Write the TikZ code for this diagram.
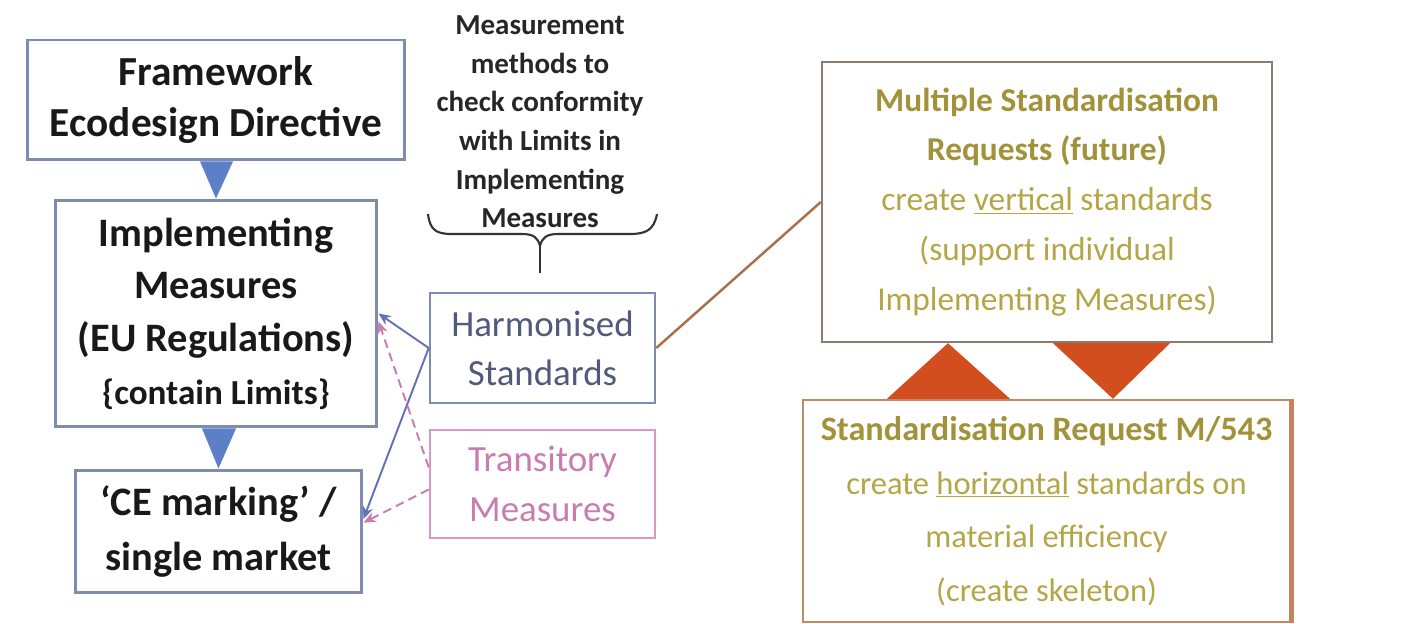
\documentclass[tikz,border=0pt]{standalone}
\usepackage{fontspec}
\setmainfont{Carlito}
\usetikzlibrary{arrows.meta,calc}

\definecolor{boxblue}{HTML}{7F8CB0}
\definecolor{triblue}{HTML}{5B80C8}
\definecolor{harmtext}{HTML}{525A7C}
\definecolor{linkblue}{HTML}{6670B4}
\definecolor{transpink}{HTML}{DC98C4}
\definecolor{pinktext}{HTML}{C87CB0}
\definecolor{goldtext}{HTML}{A2923A}
\definecolor{goldlight}{HTML}{B4A646}
\definecolor{brownline}{HTML}{A8704C}
\definecolor{multiborder}{HTML}{8C7C70}
\definecolor{stdborder}{HTML}{C48A66}
\definecolor{orangetri}{HTML}{D24E1E}

\begin{document}
\begin{tikzpicture}[x=0.02cm, y=-0.02cm,
    bluebox/.style={draw=boxblue, line width=1.7pt, align=center, inner sep=0pt, text=black!90},
    bigtext/.style={font=\fontsize{23}{30}\selectfont\bfseries},
    stdbox/.style={draw=boxblue, line width=1.5pt, align=center, inner sep=0pt,
        minimum width=4.5cm, font=\fontsize{21}{28}\selectfont},
    goldbox/.style={line width=1.4pt, align=center, inner sep=0pt, text=goldlight},
    link/.style={line width=1.1pt, -{Stealth[length=7pt, width=6pt]}}]
    \useasboundingbox (0,0) rectangle (1405,624);

    % Left column
    \node[bluebox, bigtext, minimum width=7.56cm, minimum height=2.4cm,
        font=\fontsize{23.5}{29}\selectfont\bfseries] (fw) at (216,100)
        {Framework\\Ecodesign Directive};
    \node[bluebox, bigtext, minimum width=6.44cm, minimum height=4.54cm] (im) at (216,313.5)
        {Implementing\\Measures\\(EU Regulations)\\{\fontsize{20}{26}\selectfont\{contain Limits\}}};
    \node[bluebox, bigtext, minimum width=5.74cm, minimum height=2.46cm,
        font=\fontsize{23}{31}\selectfont\bfseries] (ce) at (218.5,531.5)
        {‘CE marking’ /\\single market};

    % Triangles between left boxes
    \fill[triblue] ($(fw.south)+(-16,0)$) -- ($(fw.south)+(17,0)$) -- (im.north) -- cycle;
    \fill[triblue] ($(im.south)+(-14,0)$) -- ($(im.south)+(20,0)$) -- (ce.north) -- cycle;

    % Middle column
    \node[align=center, font=\fontsize{16.5}{22}\selectfont\bfseries, text=black!85] (mm) at (540,122)
        {Measurement\\methods to\\check conformity\\with Limits in\\Implementing\\Measures};
    \draw[black!80, line width=1.2pt] (428,214) .. controls (430,230) and (436,234) .. (452,234)
        -- (522,234) .. controls (534,234) and (538,238) .. (540,246)
        .. controls (542,238) and (546,234) .. (558,234) -- (630,234)
        .. controls (646,234) and (654,230) .. (657,214);
    \draw[black!80, line width=1.2pt] (540,246) -- (540,273);

    \node[stdbox, text=harmtext, minimum height=2.2cm] (hs) at (542.5,348)
        {Harmonised\\Standards};
    \node[stdbox, draw=transpink, text=pinktext, minimum height=2.16cm] (tr) at (542.5,484)
        {Transitory\\Measures};

    % Links to the left column
    \draw[link, linkblue] (hs.west) -- (im.east);
    \draw[link, linkblue] (hs.west) -- ($(ce.north east)!0.4!(ce.south east)$);
    \draw[link, pinktext, dash pattern=on 5pt off 3pt] ($(tr.north west)!0.35!(tr.south west)$) -- ($(im.east)+(0,8)$);
    \draw[link, pinktext, dash pattern=on 5pt off 3pt] ($(tr.north west)!0.55!(tr.south west)$) -- ($(ce.north east)!0.43!(ce.south east)$);

    % Right column
    \node[goldbox, draw=multiborder, minimum width=9cm, minimum height=5.6cm,
        font=\fontsize{19}{28.4}\selectfont] (mu) at (1047,202)
        {\textcolor{goldtext}{\bfseries Multiple Standardisation}\\
         \textcolor{goldtext}{\bfseries Requests (future)}\\
         create \underline{vertical} standards\\
         (support individual\\
         Implementing Measures)};
    \node[goldbox, draw=stdborder, minimum width=9.74cm, minimum height=4.44cm,
        font=\fontsize{18.5}{30.5}\selectfont] (sr) at (1046.5,511)
        {\textcolor{goldtext}{\bfseries\fontsize{19.5}{30.5}\selectfont Standardisation Request M/543}\\
         create \underline{horizontal} standards on\\
         material efficiency\\
         (create skeleton)};
    \draw[stdborder!90!orangetri, line width=3pt] (sr.north east) -- (sr.south east);

    \draw[brownline, line width=1.4pt] (hs.east) -- (mu.west);

    % Triangles between right boxes
    \fill[orangetri] ($(sr.north)+(-159.5,0)$) -- ($(sr.north)+(-36.5,0)$) -- ($(mu.south)+(-99,0)$) -- cycle;
    \fill[orangetri] ($(mu.south)+(6,0)$) -- ($(mu.south)+(123,0)$) -- ($(sr.north)+(66.5,0)$) -- cycle;
\end{tikzpicture}
\end{document}
